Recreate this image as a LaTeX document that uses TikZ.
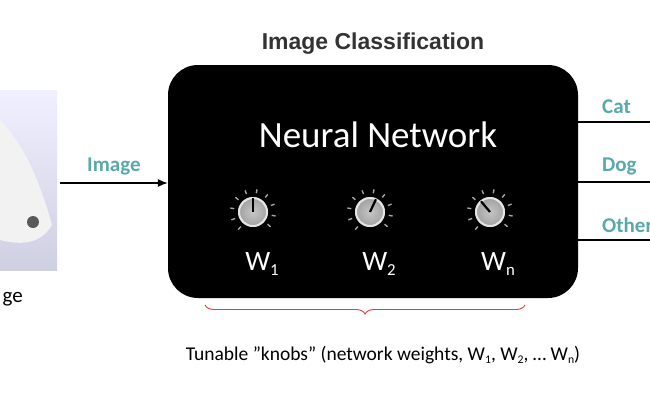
\documentclass[tikz,border=0pt]{standalone}
\usepackage{fontspec}
\setmainfont{Carlito}
\usetikzlibrary{arrows.meta,decorations.pathreplacing}
\definecolor{teal1}{RGB}{88,168,172}
\definecolor{bracered}{RGB}{230,60,50}
\tikzset{
  lbl/.style={text=teal1,font=\bfseries\fontsize{21}{21}\selectfont},
  wl/.style={text=white,font=\fontsize{28}{28}\selectfont},
  knobtick/.style={gray!70,line width=1.4pt},
}
\newcommand{\sbs}[1]{\raisebox{-0.35ex}{\fontsize{0.6em}{0.6em}\selectfont #1}}
\newcommand{\myknob}[3]{% x,y,angle
  \foreach \a in {-40,-10,...,230} \draw[knobtick] ({#1+19*cos(\a)},{#2-19*sin(\a)}) -- ({#1+23*cos(\a)},{#2-23*sin(\a)});
  \shade[inner color=gray!45,outer color=gray!75] (#1,#2) circle (15);
  \draw[gray!20,line width=2pt] (#1,#2) circle (14);
  \draw[black,line width=2.2pt] (#1,#2) -- ({#1+14*cos(#3)},{#2-14*sin(#3)});
}
\begin{document}
\begin{tikzpicture}[x=1pt,y=-1pt]
\useasboundingbox (0,0) rectangle (650,400);
\begin{scope}
\clip (0,0) rectangle (650,400);
% photo placeholder
\shade[top color=blue!6,bottom color=blue!25!gray!30] (0,90) rectangle (57,270);
\fill[white!90!gray] (0,120) .. controls (30,150) and (45,200) .. (52,225) .. controls (40,245) and (20,245) .. (0,240) -- cycle;
\fill[gray!70!black] (33,222) circle (6);
\node[font=\fontsize{21}{21}\selectfont,anchor=east,inner sep=0] (pl) at (23,299) {ge};
% box
\node[fill=black,rounded corners=30,minimum width=410,minimum height=233,inner sep=0] (nn) at (373,181.5) {};
\node[text=black!80,font=\fontsize{23}{23}\selectfont] (title) at (373,44) {\fontspec{Liberation Sans}\bfseries Image Classification};
\node[text=white,font=\fontsize{37}{37}\selectfont] (nt) at (378,135) {Neural Network};
\myknob{253}{212}{90}
\myknob{370}{212}{65}
\myknob{490}{212}{130}
\node[wl] (w1) at (262,264) {W\sbs{1}};
\node[wl] (w2) at (379,264) {W\sbs{2}};
\node[wl] (wn) at (498,264) {W\sbs{n}};
% input
\coordinate (in) at (60,183);
\draw[-{Latex[length=10pt,width=8pt]},line width=1.2pt] (in) -- (nn.west|-in) node[midway,above=4pt,lbl] (il) {Image};
% outputs
\coordinate (o1) at (650,122);\coordinate (o2) at (650,182);\coordinate (o3) at (650,240);
\draw[line width=1.2pt] (nn.east|-o1) -- (o1);
\draw[line width=1.2pt] (nn.east|-o2) -- (o2);
\draw[line width=1.2pt] (nn.east|-o3) -- (o3);
\node[lbl,anchor=west,inner sep=0] (c1) at (602,107) {Cat};
\node[lbl,anchor=west,inner sep=0] (c2) at (602,166) {Dog};
\node[lbl,anchor=west,inner sep=0] (c3) at (602,225) {Other};
% brace
\coordinate (b1) at (205,305);\coordinate (b2) at (525,305);
\draw[bracered,line width=0.9pt,decorate,decoration={brace,mirror,amplitude=9pt}] (b1) -- (b2);
\node[font=\fontsize{19.5}{19.5}\selectfont] (cap) at (383,355) {Tunable ”knobs” (network weights, W\sbs{1}, W\sbs{2}, … W\sbs{n})};
\end{scope}
\end{tikzpicture}
\end{document}
